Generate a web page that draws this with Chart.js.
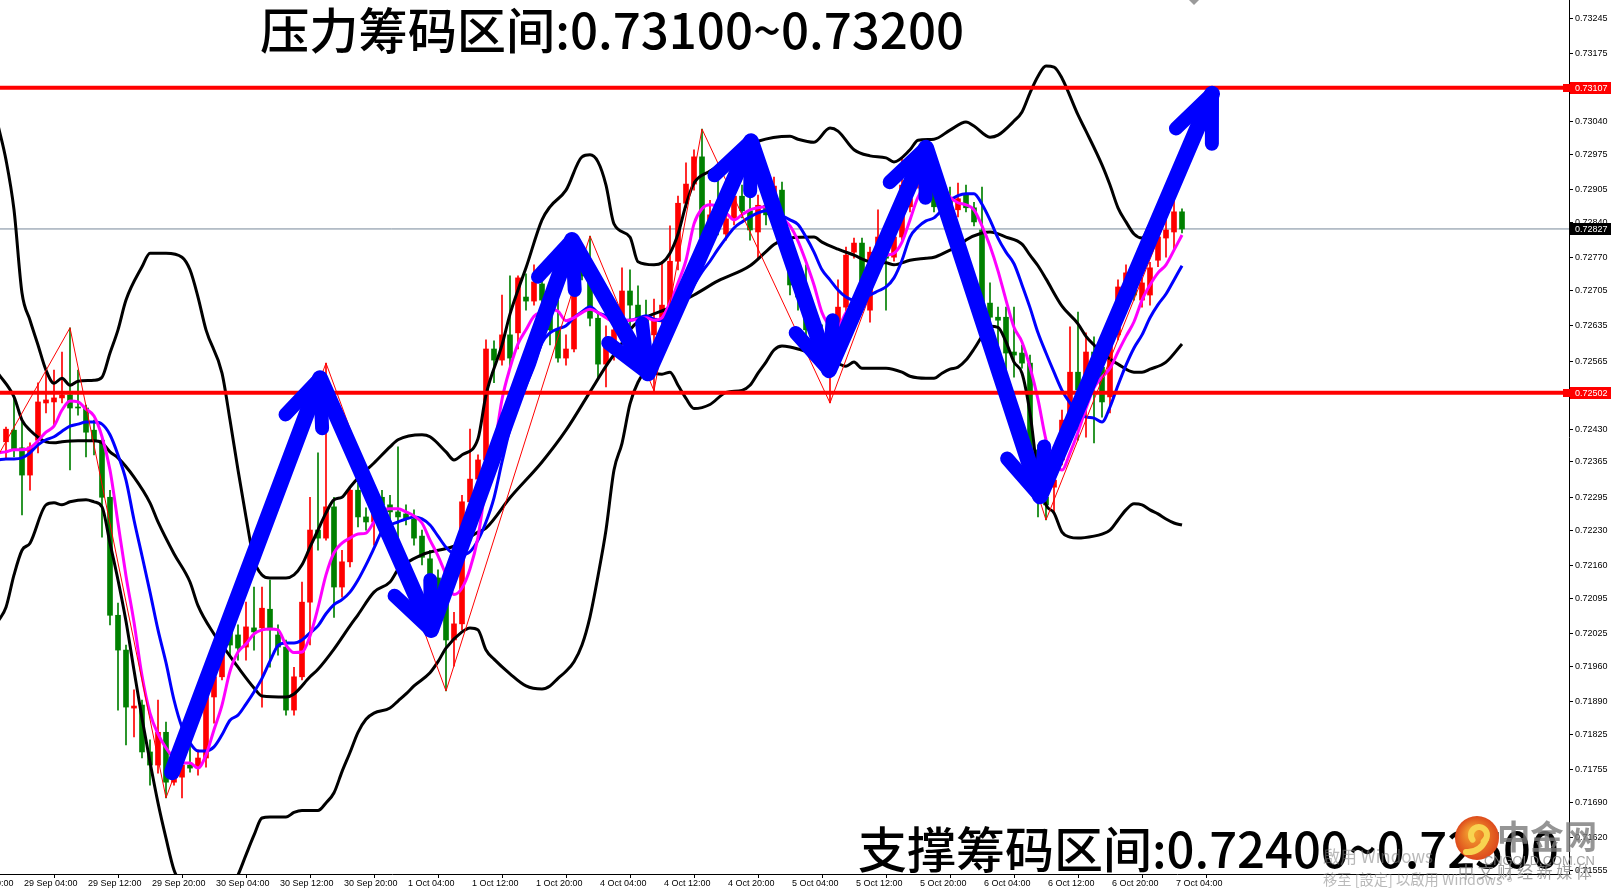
<!DOCTYPE html>
<html>
<head>
<meta charset="utf-8">
<script src="https://cdn.jsdelivr.net/npm/chart.js@4.4.1/dist/chart.umd.min.js"></script>
<style>
  html, body { margin: 0; padding: 0; background: #fff; }
  #wrap { width: 1611px; height: 890px; }
</style>
</head>
<body>
<div id="wrap"><canvas id="chart" width="1611" height="890"></canvas></div>
<script>
// H1 candles, first one is bar index -2 (index 0 = 29 Sep 04:00)
const firstBar = -2;
const opens = [
  0.72405,0.72428,0.72393,0.72339,0.72408,0.72482,0.72484,0.72492,0.72498,0.72474,0.72472,0.72428,
  0.72408,0.72295,0.72061,0.71992,0.71877,0.71883,0.71790,0.71764,0.71829,0.71730,0.71740,0.71764,
  0.71760,0.71778,0.71899,0.71939,0.72028,0.72022,0.71998,0.72036,0.72036,0.72073,0.72022,0.71998,
  0.71873,0.71939,0.72087,0.72230,0.72214,0.72276,0.72117,0.72167,0.72309,0.72256,0.72246,0.72295,
  0.72280,0.72266,0.72262,0.72252,0.72218,0.72173,0.72135,0.72095,0.72012,0.72044,0.72286,0.72331,
  0.72369,0.72589,0.72567,0.72617,0.72621,0.72692,0.72684,0.72718,0.72686,0.72627,0.72571,0.72589,
  0.72754,0.72726,0.72650,0.72559,0.72597,0.72650,0.72704,0.72676,0.72650,0.72617,0.72646,0.72676,
  0.72763,0.72878,0.72916,0.72970,0.72809,0.72865,0.72817,0.72847,0.72892,0.72863,0.72821,0.72874,
  0.72855,0.72904,0.72795,0.72716,0.72692,0.72627,0.72611,0.72583,0.72633,0.72672,0.72781,0.72799,
  0.72666,0.72785,0.72775,0.72771,0.72811,0.72871,0.72918,0.72984,0.72918,0.72908,0.72890,0.72865,
  0.72894,0.72869,0.72825,0.72680,0.72652,0.72652,0.72583,0.72581,0.72561,0.72389,0.72295,0.72315,
  0.72369,0.72448,0.72543,0.72514,0.72583,0.72553,0.72494,0.72617,0.72700,0.72722,0.72686,0.72696,
  0.72765,0.72809,0.72821,0.72861
];
const highs = [
  0.72434,0.72494,0.72444,0.72403,0.72522,0.72547,0.72547,0.72583,0.72631,0.72547,0.72478,0.72448,
  0.72418,0.72309,0.72085,0.72002,0.71913,0.71893,0.71814,0.71893,0.71849,0.71754,0.71774,0.71808,
  0.71794,0.71903,0.71986,0.71996,0.72052,0.72042,0.72087,0.72117,0.72117,0.72131,0.72042,0.72012,
  0.71958,0.72127,0.72295,0.72383,0.72561,0.72295,0.72190,0.72313,0.72323,0.72274,0.72309,0.72309,
  0.72299,0.72395,0.72280,0.72270,0.72230,0.72190,0.72151,0.72111,0.72067,0.72299,0.72430,0.72379,
  0.72607,0.72605,0.72696,0.72734,0.72734,0.72738,0.72756,0.72736,0.72706,0.72686,0.72617,0.72726,
  0.72795,0.72813,0.72662,0.72635,0.72646,0.72750,0.72746,0.72714,0.72686,0.72688,0.72763,0.72833,
  0.72892,0.72958,0.72984,0.73025,0.72884,0.72938,0.72874,0.72924,0.72914,0.72904,0.72894,0.72904,
  0.72930,0.72920,0.72805,0.72746,0.72756,0.72646,0.72637,0.72642,0.72726,0.72791,0.72809,0.72809,
  0.72791,0.72865,0.72805,0.72819,0.72968,0.72904,0.72989,0.72997,0.72944,0.72910,0.72910,0.72918,
  0.72914,0.72880,0.72910,0.72720,0.72672,0.72672,0.72672,0.72597,0.72577,0.72399,0.72329,0.72355,
  0.72468,0.72633,0.72662,0.72621,0.72613,0.72567,0.72617,0.72726,0.72756,0.72746,0.72730,0.72761,
  0.72851,0.72865,0.72886,0.72867
];
const lows = [
  0.72373,0.72375,0.72260,0.72309,0.72383,0.72462,0.72438,0.72482,0.72349,0.72458,0.72375,0.72379,
  0.72216,0.72042,0.71873,0.71804,0.71820,0.71778,0.71724,0.71748,0.71699,0.71724,0.71699,0.71750,
  0.71744,0.71760,0.71847,0.71933,0.71982,0.71972,0.71972,0.71992,0.71879,0.71958,0.71982,0.71863,
  0.71863,0.71933,0.72002,0.72190,0.72210,0.72057,0.72097,0.72157,0.72236,0.72230,0.72200,0.72260,
  0.72250,0.72190,0.72240,0.72200,0.72161,0.72121,0.72081,0.71911,0.71960,0.72032,0.72280,0.72319,
  0.72359,0.72522,0.72557,0.72551,0.72589,0.72666,0.72676,0.72656,0.72597,0.72563,0.72557,0.72583,
  0.72726,0.72635,0.72529,0.72514,0.72567,0.72637,0.72627,0.72597,0.72527,0.72506,0.72637,0.72666,
  0.72746,0.72869,0.72904,0.72795,0.72785,0.72815,0.72805,0.72835,0.72849,0.72805,0.72769,0.72835,
  0.72841,0.72781,0.72696,0.72666,0.72617,0.72587,0.72571,0.72482,0.72617,0.72662,0.72769,0.72696,
  0.72642,0.72775,0.72666,0.72763,0.72805,0.72861,0.72908,0.72924,0.72861,0.72874,0.72865,0.72851,
  0.72861,0.72833,0.72672,0.72646,0.72593,0.72541,0.72533,0.72551,0.72379,0.72256,0.72250,0.72264,
  0.72359,0.72438,0.72408,0.72414,0.72403,0.72454,0.72462,0.72607,0.72690,0.72686,0.72672,0.72676,
  0.72752,0.72771,0.72785,0.72819
];
const closes = [
  0.72430,0.72389,0.72339,0.72395,0.72484,0.72488,0.72492,0.72498,0.72472,0.72472,0.72424,0.72408,
  0.72295,0.72061,0.71992,0.71879,0.71881,0.71790,0.71764,0.71829,0.71730,0.71740,0.71764,0.71758,
  0.71778,0.71899,0.71939,0.71986,0.72002,0.71996,0.72038,0.72028,0.72075,0.72032,0.71998,0.71873,
  0.71939,0.72087,0.72230,0.72214,0.72276,0.72117,0.72167,0.72309,0.72256,0.72246,0.72295,0.72280,
  0.72266,0.72256,0.72252,0.72214,0.72176,0.72135,0.72095,0.72012,0.72044,0.72286,0.72331,0.72369,
  0.72589,0.72567,0.72617,0.72571,0.72730,0.72684,0.72722,0.72686,0.72627,0.72571,0.72589,0.72710,
  0.72734,0.72650,0.72559,0.72605,0.72627,0.72704,0.72676,0.72650,0.72613,0.72650,0.72676,0.72763,
  0.72878,0.72916,0.72970,0.72809,0.72855,0.72833,0.72847,0.72892,0.72863,0.72825,0.72874,0.72855,
  0.72912,0.72795,0.72716,0.72692,0.72627,0.72611,0.72583,0.72627,0.72672,0.72775,0.72799,0.72706,
  0.72781,0.72811,0.72769,0.72811,0.72914,0.72887,0.72984,0.72934,0.72871,0.72884,0.72871,0.72887,
  0.72869,0.72841,0.72680,0.72652,0.72646,0.72581,0.72577,0.72561,0.72389,0.72295,0.72280,0.72329,
  0.72448,0.72543,0.72508,0.72583,0.72553,0.72484,0.72607,0.72712,0.72740,0.72696,0.72720,0.72750,
  0.72811,0.72825,0.72861,0.72827
];

// Bollinger bands as [bar, price]
const bbUpper = [
  [-3,0.73033],[-2,0.72964],[-1,0.72865],[0,0.72700],[1,0.72646],[2,0.72597],[3,0.72547],[4,0.72521],
  [5,0.72531],[6,0.72517],[7,0.72525],[9,0.72527],[10,0.72533],[11,0.72581],[12,0.72627],[13,0.72686],
  [15,0.72752],[16,0.72779],[18,0.72779],[20,0.72771],[21,0.72746],[22,0.72692],[23,0.72627],[25,0.72541],
  [26,0.72448],[27,0.72349],[28,0.72256],[29,0.72171],[30,0.72141],[31,0.72135],[33,0.72135],[34,0.72141],
  [35,0.72161],[36,0.72196],[37,0.72230],[38,0.72264],[39,0.72290],[40,0.72295],[41,0.72315],[42,0.72333],
  [44,0.72363],[46,0.72395],[47,0.72409],[50,0.72419],[51,0.72415],[53,0.72385],[54,0.72369],[55,0.72379],
  [57,0.72411],[58,0.72498],[60,0.72597],[61,0.72658],[62,0.72706],[63,0.72750],[65,0.72845],[66,0.72871],
  [68,0.72904],[70,0.72970],[71,0.72974],[72,0.72960],[73,0.72914],[74,0.72837],[76,0.72811],[77,0.72762],
  [79,0.72756],[80,0.72760],[81,0.72779],[82,0.72817],[83,0.72875],[84,0.72918],[86,0.72942],[87,0.72952],
  [89,0.72976],[92,0.73001],[96,0.73011],[97,0.73005],[99,0.72999],[101,0.73027],[102,0.73021],[104,0.72984],
  [106,0.72972],[108,0.72968],[109,0.72960],[111,0.72984],[112,0.73003],[114,0.73005],[116,0.73023],[118,0.73039],
  [119,0.73031],[121,0.73009],[122,0.73013],[124,0.73041],[125,0.73059],[126,0.73097],[127,0.73130],[128,0.73150],
  [129,0.73148],[130,0.73126],[132,0.73053],[133,0.73021],[135,0.72954],[136,0.72914],[137,0.72869],[138,0.72841],
  [139,0.72817],[140,0.72809],[141,0.72836],[142,0.72851],[143,0.72876],[144,0.72914],[145,0.72954]
];
const bbMiddle = [
  [-3,0.72541],[-1,0.72494],[0,0.72448],[1,0.72428],[3,0.72405],[4,0.72403],[5,0.72405],[7,0.72407],
  [9,0.72407],[10,0.72403],[11,0.72385],[12,0.72373],[14,0.72335],[16,0.72284],[17,0.72246],[19,0.72183],
  [21,0.72127],[22,0.72080],[24,0.72024],[26,0.71980],[27,0.71958],[29,0.71917],[30,0.71901],[33,0.71899],
  [34,0.71905],[36,0.71939],[37,0.71954],[39,0.71994],[41,0.72040],[42,0.72062],[44,0.72107],[46,0.72127],
  [47,0.72151],[50,0.72181],[54,0.72198],[57,0.72226],[58,0.72234],[61,0.72294],[65,0.72365],[68,0.72428],
  [71,0.72504],[73,0.72555],[75,0.72601],[76,0.72627],[77,0.72643],[81,0.72671],[84,0.72696],[87,0.72724],
  [91,0.72754],[93,0.72782],[94,0.72796],[96,0.72809],[99,0.72811],[100,0.72801],[102,0.72787],[104,0.72775],
  [106,0.72762],[108,0.72760],[109,0.72756],[111,0.72765],[113,0.72769],[114,0.72771],[116,0.72785],[117,0.72791],
  [118,0.72805],[120,0.72819],[121,0.72821],[123,0.72811],[125,0.72797],[126,0.72775],[127,0.72754],[128,0.72728],
  [130,0.72674],[132,0.72639],[133,0.72614],[134,0.72597],[136,0.72569],[137,0.72559],[139,0.72543],[140,0.72543],
  [141,0.72549],[143,0.72563],[145,0.72599]
];
const bbLower = [
  [-3,0.72049],[-2,0.72077],[-1,0.72141],[0,0.72190],[1,0.72204],[3,0.72280],[4,0.72284],[5,0.72280],
  [6,0.72286],[8,0.72290],[9,0.72286],[10,0.72276],[11,0.72204],[12,0.72131],[13,0.72049],[14,0.71952],
  [15,0.71857],[16,0.71770],[17,0.71689],[18,0.71619],[19,0.71556],[20,0.71526],[21,0.71496],[22,0.71467],
  [23,0.71453],[24,0.71461],[25,0.71486],[26,0.71516],[27,0.71546],[28,0.71586],[29,0.71625],[30,0.71659],
  [31,0.71661],[33,0.71661],[34,0.71670],[35,0.71674],[37,0.71674],[38,0.71689],[39,0.71709],[40,0.71751],
  [41,0.71789],[42,0.71829],[43,0.71855],[44,0.71867],[46,0.71877],[47,0.71891],[48,0.71905],[49,0.71921],
  [51,0.71947],[52,0.71969],[53,0.71996],[55,0.72028],[56,0.72036],[57,0.72032],[58,0.71992],[59,0.71974],
  [61,0.71945],[63,0.71921],[65,0.71915],[66,0.71921],[67,0.71936],[68,0.71950],[69,0.71969],[70,0.72002],
  [71,0.72058],[72,0.72139],[73,0.72230],[74,0.72349],[75,0.72402],[76,0.72480],[77,0.72523],[78,0.72543],
  [80,0.72539],[81,0.72543],[82,0.72517],[83,0.72491],[84,0.72471],[86,0.72479],[88,0.72503],[90,0.72507],
  [91,0.72517],[92,0.72541],[93,0.72563],[94,0.72587],[95,0.72595],[96,0.72593],[97,0.72589],[99,0.72579],
  [101,0.72569],[103,0.72555],[104,0.72563],[105,0.72551],[108,0.72551],[110,0.72543],[111,0.72535],[113,0.72531],
  [114,0.72531],[115,0.72541],[116,0.72549],[117,0.72553],[118,0.72567],[119,0.72589],[120,0.72614],[121,0.72634],
  [122,0.72632],[123,0.72603],[124,0.72563],[125,0.72541],[126,0.72462],[127,0.72339],[128,0.72280],[129,0.72264],
  [130,0.72226],[131,0.72216],[132,0.72214],[134,0.72218],[135,0.72222],[136,0.72230],[137,0.72250],[138,0.72270],
  [139,0.72282],[140,0.72280],[141,0.72270],[142,0.72262],[143,0.72252],[144,0.72244],[145,0.72240]
];

// moving averages, one value per bar starting at bar -3
const maStart = -3;
const maFast = [
  0.72383,0.72385,0.72389,0.72389,0.72393,0.72407,0.72424,0.72436,0.72468,0.72486,
  0.72484,0.72470,0.72456,0.72415,0.72349,0.72244,0.72139,0.72047,0.71941,0.71867,
  0.71826,0.71798,0.71778,0.71768,0.71768,0.71758,0.71784,0.71834,0.71883,0.71950,
  0.71988,0.72004,0.72024,0.72032,0.72034,0.72032,0.72002,0.71987,0.71988,0.72020,
  0.72076,0.72141,0.72185,0.72204,0.72214,0.72222,0.72224,0.72246,0.72268,0.72272,
  0.72272,0.72266,0.72258,0.72244,0.72210,0.72179,0.72141,0.72102,0.72115,0.72153,
  0.72216,0.72319,0.72389,0.72489,0.72551,0.72599,0.72627,0.72654,0.72662,0.72668,
  0.72664,0.72645,0.72651,0.72661,0.72668,0.72661,0.72651,0.72643,0.72645,0.72646,
  0.72648,0.72651,0.72646,0.72651,0.72681,0.72720,0.72765,0.72837,0.72867,0.72875,
  0.72871,0.72859,0.72845,0.72855,0.72865,0.72869,0.72871,0.72861,0.72848,0.72833,
  0.72803,0.72762,0.72716,0.72661,0.72637,0.72635,0.72661,0.72681,0.72706,0.72730,
  0.72754,0.72774,0.72779,0.72801,0.72845,0.72890,0.72913,0.72914,0.72914,0.72890,
  0.72879,0.72875,0.72865,0.72833,0.72793,0.72744,0.72686,0.72632,0.72603,0.72553,
  0.72489,0.72409,0.72367,0.72349,0.72383,0.72424,0.72471,0.72512,0.72533,0.72551,
  0.72583,0.72614,0.72643,0.72686,0.72716,0.72740,0.72756,0.72785,0.72815
];
const maSlow = [
  0.72369,0.72371,0.72371,0.72373,0.72383,0.72399,0.72409,0.72415,0.72426,0.72436,
  0.72440,0.72444,0.72444,0.72440,0.72419,0.72379,0.72329,0.72250,0.72179,0.72107,
  0.72032,0.71967,0.71893,0.71839,0.71808,0.71792,0.71792,0.71800,0.71824,0.71853,
  0.71863,0.71885,0.71909,0.71936,0.71970,0.72001,0.72006,0.72006,0.72012,0.72026,
  0.72040,0.72064,0.72082,0.72092,0.72107,0.72131,0.72161,0.72194,0.72228,0.72240,
  0.72246,0.72252,0.72256,0.72252,0.72240,0.72218,0.72196,0.72183,0.72181,0.72187,
  0.72210,0.72246,0.72294,0.72365,0.72430,0.72479,0.72517,0.72555,0.72601,0.72621,
  0.72629,0.72635,0.72651,0.72663,0.72673,0.72661,0.72655,0.72646,0.72646,0.72646,
  0.72650,0.72655,0.72648,0.72645,0.72654,0.72671,0.72692,0.72716,0.72742,0.72763,
  0.72787,0.72809,0.72829,0.72841,0.72851,0.72859,0.72863,0.72859,0.72853,0.72845,
  0.72836,0.72811,0.72781,0.72746,0.72726,0.72706,0.72692,0.72686,0.72690,0.72696,
  0.72704,0.72712,0.72730,0.72765,0.72811,0.72831,0.72843,0.72849,0.72865,0.72883,
  0.72893,0.72897,0.72897,0.72876,0.72845,0.72809,0.72781,0.72758,0.72716,0.72671,
  0.72621,0.72581,0.72543,0.72507,0.72482,0.72462,0.72454,0.72452,0.72444,0.72474,
  0.72517,0.72557,0.72591,0.72617,0.72651,0.72677,0.72698,0.72726,0.72754
];

// zigzag swing points
const zigBars   = [-5, 6, 18, 38, 53, 71, 79, 85, 101, 113, 128, 144];
const zigPrices = [0.72321,0.72631,0.71699,0.72561,0.71911,0.72813,0.72506,0.73025,0.72482,0.72997,0.72250,0.72886];

// hand drawn blue arrows (bar, price of each vertex)
const arrowBars   = [18.75, 37.25, 51.125, 68.75, 78.25, 91.125, 100.875, 113, 127.25, 148.75];
const arrowPrices = [0.71750,0.72531,0.72032,0.72805,0.72541,0.73001,0.72547,0.72988,0.72297,0.73095];

const levels = [0.73107, 0.72502];   // red horizontal lines
const bidPrice = 0.72827;

const priceTicks = [0.73245,0.73175,0.73040,0.72975,0.72905,0.72840,0.72770,0.72705,0.72635,0.72565,
  0.72430,0.72365,0.72295,0.72230,0.72160,0.72095,0.72025,0.71960,0.71890,0.71825,0.71755,0.71690,0.71620,0.71555];
const timeTicks = [-8,0,8,16,24,32,40,48,56,64,72,80,88,96,104,112,120,128,136,144];
const timeLabels = ['28 Sep 20:00','29 Sep 04:00','29 Sep 12:00','29 Sep 20:00','30 Sep 04:00','30 Sep 12:00',
  '30 Sep 20:00','1 Oct 04:00','1 Oct 12:00','1 Oct 20:00','4 Oct 04:00','4 Oct 12:00','4 Oct 20:00',
  '5 Oct 04:00','5 Oct 12:00','5 Oct 20:00','6 Oct 04:00','6 Oct 12:00','6 Oct 20:00','7 Oct 04:00'];

const topText = '压力筹码区间:0.73100~0.73200';
const bottomText = '支撑筹码区间:0.72400~0.72500';

const xMin = -2.75, xMax = 193.375;
const yMin = 0.71548, yMax = 0.73281;

// ---- build datasets ----
const bars = opens.map((o, i) => i + firstBar);
const candleColors = opens.map((o, i) => closes[i] >= o ? '#FF0000' : '#008000');
const pairs = arr => arr.map(p => ({ x: p[0], y: p[1] }));
const series = (start, vals) => vals.map((v, i) => ({ x: start + i, y: v }));

function lineDs(data, color, width, order, extra) {
  return Object.assign({
    type: 'line', data, borderColor: color, borderWidth: width, pointRadius: 0,
    fill: false, order, clip: 0, cubicInterpolationMode: 'monotone'
  }, extra || {});
}

const datasets = [
  lineDs([{ x: xMin - 5, y: bidPrice }, { x: xMax + 5, y: bidPrice }], '#778899', 1, 20, { cubicInterpolationMode: 'default' }),
  {
    type: 'bar', data: bars.map((x, i) => ({ x, y: [lows[i], highs[i]] })),
    backgroundColor: candleColors, barThickness: 1, maxBarThickness: 1, grouped: false,
    borderWidth: 0, order: 16
  },
  {
    type: 'bar', data: bars.map((x, i) => ({ x, y: [opens[i], closes[i]] })),
    backgroundColor: candleColors, barThickness: 5, maxBarThickness: 5, grouped: false,
    borderWidth: 0, minBarLength: 1, order: 15
  },
  lineDs(pairs(bbUpper), '#000000', 3, 12),
  lineDs(pairs(bbMiddle), '#000000', 3, 12),
  lineDs(pairs(bbLower), '#000000', 3, 12),
  lineDs(series(maStart, maSlow), '#0000FF', 3, 11),
  lineDs(series(maStart, maFast), '#FF00FF', 3, 10),
  lineDs(zigBars.map((b, i) => ({ x: b, y: zigPrices[i] })), '#FF0000', 1, 9, { cubicInterpolationMode: 'default' }),
  ...levels.map(v => lineDs([{ x: xMin - 5, y: v }, { x: xMax + 5, y: v }], '#FF0000', 4, 5, { cubicInterpolationMode: 'default' })),
  lineDs(arrowBars.map((b, i) => ({ x: b, y: arrowPrices[i] })), '#0000FF', 16, 1,
    { cubicInterpolationMode: 'default', borderJoinStyle: 'round', borderCapStyle: 'round' })
];

// ---- overlays: arrow heads, texts, axis price boxes ----
function fitText(ctx, txt, left, width, cy, weight, family, color) {
  ctx.font = weight + ' 100px ' + family;
  const w = ctx.measureText(txt).width;
  ctx.font = weight + ' ' + (100 * width / w).toFixed(2) + 'px ' + family;
  ctx.fillStyle = color;
  ctx.textAlign = 'left';
  ctx.textBaseline = 'middle';
  ctx.fillText(txt, left, cy);
}

const overlay = {
  id: 'overlay',
  afterDatasetsDraw(chart) {
    const { ctx, scales: { x, y } } = chart;
    const pts = arrowBars.map((b, i) => [x.getPixelForValue(b), y.getPixelForValue(arrowPrices[i])]);
    const ang = 23 * Math.PI / 180, len = 50;
    ctx.save();
    ctx.strokeStyle = '#0000FF';
    ctx.lineWidth = 14;
    ctx.lineCap = 'round';
    for (let i = 1; i < pts.length; i++) {
      const [tx, ty] = pts[i], [px, py] = pts[i - 1];
      const d = Math.hypot(px - tx, py - ty);
      const ux = (px - tx) / d, uy = (py - ty) / d;
      for (const a of [ang, -ang]) {
        const c = Math.cos(a), s = Math.sin(a);
        ctx.beginPath();
        ctx.moveTo(tx, ty);
        ctx.lineTo(tx + (ux * c - uy * s) * len, ty + (ux * s + uy * c) * len);
        ctx.stroke();
      }
    }
    ctx.restore();
  },
  afterDraw(chart) {
    const { ctx, chartArea, scales: { y } } = chart;
    ctx.save();
    // price boxes on the right axis
    const box = (v, bg, marker) => {
      const py = Math.round(y.getPixelForValue(v));
      if (marker) { ctx.fillStyle = bg; ctx.fillRect(chartArea.right - 6, py - 4, 7, 8); }
      ctx.fillStyle = bg;
      ctx.fillRect(chartArea.right + 1, py - 6, 42, 12);
      ctx.fillStyle = '#fff';
      ctx.font = '9px "Liberation Sans"';
      ctx.textAlign = 'left';
      ctx.textBaseline = 'middle';
      ctx.fillText(v.toFixed(5), chartArea.right + 6, py + 0.5);
    };
    levels.forEach(v => box(v, '#FF0000', true));
    box(bidPrice, '#000000', false);

    // chart shift marker
    ctx.fillStyle = '#9a9a9a';
    ctx.beginPath(); ctx.moveTo(1189, 0); ctx.lineTo(1199, 0); ctx.lineTo(1194, 5); ctx.closePath(); ctx.fill();

    // the two captions
    const cjk = '"Noto Sans CJK SC"';
    fitText(ctx, topText, 260, 704, 30, '500', cjk, '#000');
    fitText(ctx, bottomText, 858, 701, 849, '500', cjk, '#000');

    // watermarks
    ctx.globalAlpha = 0.55;
    fitText(ctx, '啟用 Windows', 1323, 110, 857, 'normal', '"Noto Sans CJK TC"', '#808080');
    fitText(ctx, '移至 [設定] 以啟用 Windows。', 1323, 194, 880, 'normal', '"Noto Sans CJK TC"', '#808080');
    ctx.globalAlpha = 1;
    const g = ctx.createRadialGradient(1472, 832, 4, 1477, 838, 22);
    g.addColorStop(0, '#f29a2e'); g.addColorStop(1, '#dd4a1c');
    ctx.fillStyle = g;
    ctx.beginPath(); ctx.arc(1477, 838, 22, 0, Math.PI * 2); ctx.fill();
    ctx.strokeStyle = '#f8d350'; ctx.lineWidth = 6; ctx.lineCap = 'round';
    ctx.beginPath(); ctx.arc(1479, 835, 8, 0.8 * Math.PI, 2.3 * Math.PI); ctx.stroke();
    ctx.beginPath(); ctx.moveTo(1486, 839); ctx.quadraticCurveTo(1480, 853, 1466, 852); ctx.stroke();
    ctx.globalAlpha = 0.8;
    fitText(ctx, '中金网', 1497, 100, 836, 'bold', cjk, '#7a7a7a');
    fitText(ctx, 'CNGOLD.COM.CN', 1484, 111, 861, 'normal', '"Liberation Sans"', '#8a8a8a');
    fitText(ctx, '中 文 财 经 新 媒 体', 1458, 134, 872, 'normal', cjk, '#8a8a8a');
    ctx.restore();
  }
};

new Chart(document.getElementById('chart'), {
  type: 'bar',
  data: { datasets },
  options: {
    responsive: false,
    animation: false,
    devicePixelRatio: 1,
    events: [],
    layout: { padding: 0 },
    plugins: { legend: { display: false }, tooltip: { enabled: false } },
    scales: {
      x: {
        type: 'linear', min: xMin, max: xMax, offset: false,
        grid: { drawOnChartArea: false, drawTicks: true, tickLength: 4, color: '#000' },
        border: { display: true, color: '#000', width: 1 },
        afterBuildTicks: s => { s.ticks = timeTicks.map(v => ({ value: v })); },
        afterFit: s => { s.height = 16; s.paddingLeft = 0; s.paddingRight = 0; },
        ticks: {
          autoSkip: false, maxRotation: 0, minRotation: 0, align: 'start', labelOffset: 2, padding: 0,
          color: '#000', font: { family: 'Liberation Sans', size: 9 },
          callback: (v, i) => timeLabels[i]
        }
      },
      y: {
        type: 'linear', position: 'right', min: yMin, max: yMax,
        grid: { drawOnChartArea: false, drawTicks: true, tickLength: 4, color: '#000' },
        border: { display: true, color: '#000', width: 1 },
        afterBuildTicks: s => { s.ticks = priceTicks.map(v => ({ value: v })); },
        afterFit: s => { s.width = 42; s.paddingTop = 0; s.paddingBottom = 0; },
        ticks: {
          crossAlign: 'near', padding: 2, color: '#000',
          font: { family: 'Liberation Sans', size: 9 },
          callback: v => Number(v).toFixed(5)
        }
      }
    }
  },
  plugins: [overlay]
});
</script>
</body>
</html>
